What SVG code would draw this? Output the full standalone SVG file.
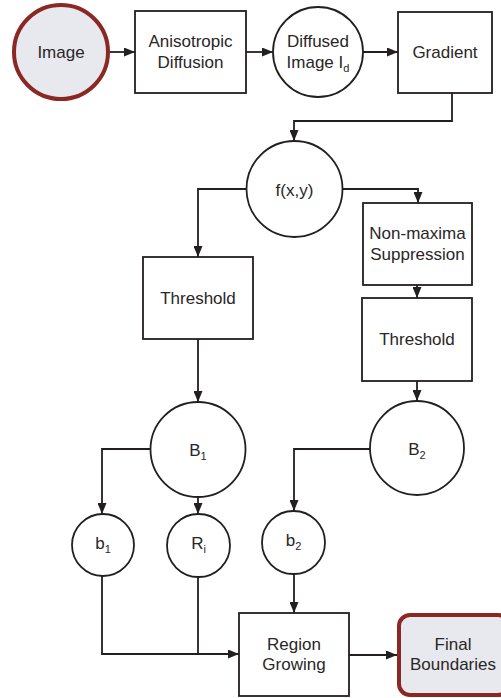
<svg xmlns="http://www.w3.org/2000/svg" width="501" height="698" viewBox="0 0 501 698">
<style>
.box{fill:#fff;stroke:#231f20;stroke-width:1.8}
.hl{fill:#e8e9ee;stroke:#8b2823;stroke-width:4}
.t{font-family:"Liberation Sans",Arial,sans-serif;font-size:17px;fill:#2a2627;text-anchor:middle}
.s{font-size:11px}
.c{fill:none;stroke:#231f20;stroke-width:1.8}
</style>
<defs>
<marker id="ah" markerUnits="userSpaceOnUse" markerWidth="11" markerHeight="9" refX="11" refY="4.5" orient="auto">
<path d="M0,0 L11,4.5 L0,9 z" fill="#231f20"/>
</marker>
</defs>
<g id="connectors" class="c">
<path d="M110,52 H135" marker-end="url(#ah)"/>
<path d="M246,52 H273" marker-end="url(#ah)"/>
<path d="M363,52 H398" marker-end="url(#ah)"/>
<path d="M452,93 V121 H294 V141" marker-end="url(#ah)"/>
<path d="M246,189 H198 V257" marker-end="url(#ah)"/>
<path d="M343,189 H418 V203" marker-end="url(#ah)"/>
<path d="M417,285 V298" marker-end="url(#ah)"/>
<path d="M417,381 V401" marker-end="url(#ah)"/>
<path d="M198,339 V402" marker-end="url(#ah)"/>
<path d="M150,449 H102 V514" marker-end="url(#ah)"/>
<path d="M198,497 V514" marker-end="url(#ah)"/>
<path d="M370,449 H294 V511" marker-end="url(#ah)"/>
<path d="M294,574 V613" marker-end="url(#ah)"/>
<path d="M102,576 V654 H239" marker-end="url(#ah)"/>
<path d="M198,577 V654"/>
<path d="M349,655 H397" marker-end="url(#ah)"/>
</g>
<g id="image">
<circle class="hl" cx="61" cy="52" r="47"/>
<text class="t" x="61" y="58">Image</text>
</g>
<g id="anisotropic">
<rect class="box" x="135" y="11" width="111" height="82"/>
<text class="t" x="190.5" y="47">Anisotropic</text>
<text class="t" x="190.5" y="68">Diffusion</text>
</g>
<g id="diffused">
<circle class="box" cx="318" cy="52" r="45"/>
<text class="t" x="318" y="47">Diffused</text>
<text class="t" x="318" y="68">Image I<tspan class="s" dy="4">d</tspan></text>
</g>
<g id="gradient">
<rect class="box" x="398" y="12" width="94" height="81"/>
<text class="t" x="445" y="58">Gradient</text>
</g>
<g id="fxy">
<circle class="box" cx="294.5" cy="189" r="48"/>
<text class="t" x="294.5" y="196">f(x,y)</text>
</g>
<g id="nms">
<rect class="box" x="363" y="203" width="109" height="82"/>
<text class="t" x="417.5" y="239">Non-maxima</text>
<text class="t" x="417.5" y="260">Suppression</text>
</g>
<g id="threshold1">
<rect class="box" x="143" y="257" width="110" height="82"/>
<text class="t" x="198" y="304">Threshold</text>
</g>
<g id="threshold2">
<rect class="box" x="362" y="298" width="110" height="83"/>
<text class="t" x="417" y="345">Threshold</text>
</g>
<g id="B1">
<circle class="box" cx="198" cy="449.5" r="47.5"/>
<text class="t" x="198" y="456">B<tspan class="s" dy="4">1</tspan></text>
</g>
<g id="B2">
<circle class="box" cx="417" cy="448" r="47"/>
<text class="t" x="417" y="455">B<tspan class="s" dy="4">2</tspan></text>
</g>
<g id="b1">
<circle class="box" cx="103" cy="545" r="31"/>
<text class="t" x="103" y="549">b<tspan class="s" dy="4">1</tspan></text>
</g>
<g id="Ri">
<circle class="box" cx="198.5" cy="545.5" r="31.5"/>
<text class="t" x="198.5" y="549">R<tspan class="s" dy="4">i</tspan></text>
</g>
<g id="b2">
<circle class="box" cx="293.5" cy="542.5" r="31.5"/>
<text class="t" x="293.5" y="546">b<tspan class="s" dy="4">2</tspan></text>
</g>
<g id="region">
<rect class="box" x="239" y="613" width="110" height="83"/>
<text class="t" x="294" y="650">Region</text>
<text class="t" x="294" y="670">Growing</text>
</g>
<g id="final">
<rect class="hl" x="399" y="615" width="110" height="80" rx="11"/>
<text class="t" x="453" y="650">Final</text>
<text class="t" x="453" y="670">Boundaries</text>
</g>
</svg>
